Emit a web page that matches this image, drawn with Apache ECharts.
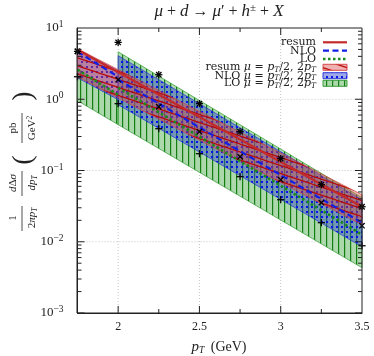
<!DOCTYPE html>
<html><head><meta charset="utf-8">
<script src="https://cdn.jsdelivr.net/npm/echarts@6/dist/echarts.min.js"></script>
<style>html,body{margin:0;padding:0;background:#fff}#c{width:374px;height:356px}</style>
</head><body><div id="c"></div>
<script>
// ---------- data ----------
const ptFull = [1.75, 3.5];
const resumCentral = [4.95, 0.031];
const resumUpper = [5.12, 0.0457];
const resumLower = [2.07, 0.0173];

const ptLeft = [1.75, 2.0];
const ptRight = [2.0, 3.5];
const nloCentralL = [4.64, 2.07];
const nloUpperL = [4.95, 2.52];
const nloLowerL = [2.00, 0.987];
const nloCentralR = [1.88, 0.0185];
const nloUpperR = [4.08, 0.0389];
const nloLowerR = [0.839, 0.00851];

const loCentralL = [2.60, 1.16];
const loUpperL = [2.68, 1.16];
const loLowerL = [0.955, 0.440];
const loCentralR = [1.45, 0.01256];
const loUpperR = [4.64, 0.0415];
const loLowerR = [0.440, 0.00432];

const ptMarks = [1.75, 2.0, 2.25, 2.5, 2.75, 3.0, 3.25, 3.5];
const starVals = [4.70, 6.28, 2.21, 0.867, 0.351, 0.147, 0.0632, 0.031];
const crossVals = [4.70, 1.88, 0.785, 0.351, 0.156, 0.0743, 0.0353, 0.0168];
const plusVals = [2.07, 0.867, 0.386, 0.172, 0.0819, 0.0389, 0.0185, 0.00879];

const xMajorTicks = [2.0, 2.5, 3.0];
const xMinorTicks = [2.25, 2.75, 3.25];
const xGrid = [2.0, 2.5, 3.0];
const yGrid = [1, 0.1, 0.01];
const yMinorMult = [2, 3, 4, 5, 6, 7, 8, 9];
const yDecades = [0.001, 0.01, 0.1, 1];
const xTickLabels = [2, 2.5, 3, 3.5];

const legendLabels = ['resum', 'NLO', 'LO'];
const legendBandNames = ['resum', 'NLO', 'LO'];

// ---------- patterns ----------
function makePattern(kind) {
  const c = document.createElement('canvas');
  let ctx;
  if (kind === 'red') {
    c.width = 24; c.height = 8; ctx = c.getContext('2d');
    ctx.fillStyle = 'rgba(220,70,70,0.42)'; ctx.fillRect(0, 0, 24, 8);
    ctx.strokeStyle = 'rgba(185,10,10,1)'; ctx.lineWidth = 1.2;
    for (let k = -1; k <= 1; k++) {
      ctx.beginPath(); ctx.moveTo(0, k * 8); ctx.lineTo(24, k * 8 + 8); ctx.stroke();
    }
  } else if (kind === 'blue') {
    c.width = 5; c.height = 5; ctx = c.getContext('2d');
    ctx.fillStyle = 'rgba(55,75,200,0.48)'; ctx.fillRect(0, 0, 5, 5);
    ctx.fillStyle = 'rgba(10,20,230,1)'; ctx.fillRect(1, 1, 2, 2);
  } else {
    c.width = 6; c.height = 6; ctx = c.getContext('2d');
    ctx.fillStyle = 'rgba(80,175,80,0.48)'; ctx.fillRect(0, 0, 6, 6);
    ctx.fillStyle = 'rgba(20,125,20,1)'; ctx.fillRect(2, 0, 1.2, 6);
  }
  return { image: c, repeat: 'repeat' };
}
const pat = { red: makePattern('red'), blue: makePattern('blue'), green: makePattern('green') };

// ---------- helpers ----------
function bandSeries(pts, up, lo, fill, z, stroke) {
  return {
    type: 'custom', z: z, silent: true,
    data: [[pts[0], up[0]]],
    renderItem: function (params, api) {
      const p = [];
      for (let i = 0; i < pts.length; i++) p.push(api.coord([pts[i], up[i]]));
      for (let i = pts.length - 1; i >= 0; i--) p.push(api.coord([pts[i], lo[i]]));
      return { type: 'polygon', shape: { points: p }, style: { fill: fill, stroke: stroke || null, lineWidth: 0.8 } };
    }
  };
}
function lineSeries(pts, vals, color, width, type, z) {
  return {
    type: 'line', z: z, silent: true, symbol: 'none', animation: false,
    data: pts.map((x, i) => [x, vals[i]]),
    lineStyle: { color: color, width: width, type: type }
  };
}
function markerSeries(vals, kind) {
  return {
    type: 'custom', z: 6, silent: true,
    data: ptMarks.map((x, i) => [x, vals[i]]),
    renderItem: function (params, api) {
      const c = api.coord([api.value(0), api.value(1)]);
      const r = 3.6, d = r * 0.75;
      const segs = [];
      if (kind !== 'x') { segs.push([c[0] - r, c[1], c[0] + r, c[1]]); segs.push([c[0], c[1] - r, c[0], c[1] + r]); }
      if (kind !== 'plus') { segs.push([c[0] - d, c[1] - d, c[0] + d, c[1] + d]); segs.push([c[0] - d, c[1] + d, c[0] + d, c[1] - d]); }
      return {
        type: 'group',
        children: segs.map(s => ({ type: 'line', shape: { x1: s[0], y1: s[1], x2: s[2], y2: s[3] }, style: { stroke: '#000', lineWidth: 1.25 } }))
      };
    }
  };
}
function gridSeries() {
  return {
    type: 'custom', z: 1, silent: true,
    data: [[2, 1]],
    renderItem: function (params, api) {
      const ch = [];
      const dash = { stroke: '#c4c4c4', lineWidth: 1, lineDash: [1, 2] };
      xGrid.forEach(x => {
        const a = api.coord([x, 10]), b = api.coord([x, 0.001]);
        ch.push({ type: 'line', shape: { x1: a[0], y1: a[1], x2: b[0], y2: b[1] }, style: dash });
      });
      yGrid.forEach(y => {
        const a = api.coord([1.75, y]), b = api.coord([3.5, y]);
        ch.push({ type: 'line', shape: { x1: a[0], y1: a[1], x2: b[0], y2: b[1] }, style: dash });
      });
      return { type: 'group', children: ch };
    }
  };
}
function tickSeries() {
  return {
    type: 'custom', z: 8, silent: true,
    data: [[2, 1]],
    renderItem: function (params, api) {
      const ch = [];
      const st = { stroke: '#222', lineWidth: 1 };
      const add = (x1, y1, x2, y2) => ch.push({ type: 'line', shape: { x1, y1, x2, y2 }, style: st });
      xMajorTicks.forEach(x => {
        const b = api.coord([x, 0.001]), t = api.coord([x, 10]);
        add(b[0], b[1], b[0], b[1] - 7); add(t[0], t[1], t[0], t[1] + 7);
      });
      xMinorTicks.forEach(x => {
        const b = api.coord([x, 0.001]), t = api.coord([x, 10]);
        add(b[0], b[1], b[0], b[1] - 4); add(t[0], t[1], t[0], t[1] + 4);
      });
      yDecades.forEach(d => {
        const l = api.coord([1.75, d]), r = api.coord([3.5, d]);
        add(l[0], l[1], l[0] + 7, l[1]); add(r[0], r[1], r[0] - 7, r[1]);
        yMinorMult.forEach(m => {
          const l2 = api.coord([1.75, d * m]), r2 = api.coord([3.5, d * m]);
          add(l2[0], l2[1], l2[0] + 4, l2[1]); add(r2[0], r2[1], r2[0] - 4, r2[1]);
        });
      });
      return { type: 'group', children: ch };
    }
  };
}

const RED = '#c42a2a', BLUE = '#1020e6', GREEN = '#1a8c1a';
const serif = 'Liberation Serif';
const dserif = 'DejaVu Serif';

const series = [
  gridSeries(),
  bandSeries(ptFull, resumUpper, resumLower, '#fff', 2),
  bandSeries(ptLeft, nloUpperL, nloLowerL, '#fff', 2),
  bandSeries(ptRight, nloUpperR, nloLowerR, '#fff', 2),
  bandSeries(ptLeft, loUpperL, loLowerL, '#fff', 2),
  bandSeries(ptRight, loUpperR, loLowerR, '#fff', 2),
  bandSeries(ptLeft, loUpperL, loLowerL, pat.green, 3, 'rgba(40,150,40,0.8)'),
  bandSeries(ptRight, loUpperR, loLowerR, pat.green, 3, 'rgba(40,150,40,0.8)'),
  bandSeries(ptLeft, nloUpperL, nloLowerL, pat.blue, 3, 'rgba(30,40,220,0.8)'),
  bandSeries(ptRight, nloUpperR, nloLowerR, pat.blue, 3, 'rgba(30,40,220,0.8)'),
  bandSeries(ptFull, resumUpper, resumLower, pat.red, 3, 'rgba(210,60,60,0.8)'),
  lineSeries(ptLeft, loCentralL, GREEN, 2.6, [2.5, 2.5], 4),
  lineSeries(ptRight, loCentralR, GREEN, 2.6, [2.5, 2.5], 4),
  lineSeries(ptLeft, nloCentralL, BLUE, 2.2, [6, 3.5], 4),
  lineSeries(ptRight, nloCentralR, BLUE, 2.2, [6, 3.5], 4),
  lineSeries(ptFull, resumCentral, RED, 2.2, 'solid', 5),
  markerSeries(starVals, 'star'),
  markerSeries(crossVals, 'x'),
  markerSeries(plusVals, 'plus'),
  tickSeries()
];

// legend graphics
const legX1 = 323, legX2 = 347, legTextX = 316;
const rows = [42.3, 50.7, 59, 67.3, 75.7, 83.3];
const legendGraphics = [];
const lineStyles = [
  { stroke: RED, lineWidth: 2.2 },
  { stroke: BLUE, lineWidth: 2.2, lineDash: [6, 3.5] },
  { stroke: GREEN, lineWidth: 2.6, lineDash: [2.5, 2.5] }
];
const legFont = '11px "' + dserif + '"';
legendLabels.forEach((lab, i) => {
  legendGraphics.push({ type: 'text', x: legTextX, y: rows[i], style: { text: lab, font: legFont, fill: '#222', align: 'right', verticalAlign: 'middle' } });
  legendGraphics.push({ type: 'line', shape: { x1: legX1, y1: rows[i], x2: legX2, y2: rows[i] }, style: lineStyles[i] });
});
const bandStyles = [
  { fill: pat.red, stroke: 'rgba(210,60,60,0.9)' },
  { fill: pat.blue, stroke: 'rgba(30,40,220,0.9)' },
  { fill: pat.green, stroke: 'rgba(40,150,40,0.9)' }
];
legendBandNames.forEach((lab, i) => {
  const y = rows[i + 3];
  legendGraphics.push({
    type: 'text', x: legTextX, y: y,
    style: {
      text: lab + ' {i|μ} = {i|p}{s|T}/2, 2{i|p}{s|T}', align: 'right', verticalAlign: 'middle',
      font: legFont, fill: '#222',
      rich: { i: { fontStyle: 'italic', fontFamily: dserif, fontSize: 11, fill: '#222' }, s: { fontStyle: 'italic', fontFamily: dserif, fontSize: 7.5, fill: '#222', padding: [5, 0, 0, 0] } }
    }
  });
  legendGraphics.push({ type: 'rect', shape: { x: legX1, y: y - 3, width: legX2 - legX1, height: 6 }, style: { fill: bandStyles[i].fill, stroke: bandStyles[i].stroke, lineWidth: 1 } });
});

// ---- y-axis title pieces, drawn as rotated names of hidden helper axes ----
const AX_X = 77, AX_MID = 28 + 285 / 2;
const nameRich = {
  i: { fontStyle: 'italic', fontSize: 11, fontFamily: serif, color: '#222' },
  s: { fontStyle: 'italic', fontSize: 7.5, fontFamily: serif, color: '#222', padding: [5, 0, 0, 0] },
  u: { fontSize: 7.5, fontFamily: serif, color: '#222', padding: [0, 0, 5, 0] }
};
function nameAxis(text, cx, cy, size) {
  const d = cy - AX_MID;
  const pad = d > 0 ? [0, 2 * d, 0, 0] : [0, 0, 0, -2 * d];
  return {
    type: 'value', min: 0, max: 1, show: true, position: 'left', offset: 0,
    axisLine: { show: false }, axisTick: { show: false }, axisLabel: { show: false },
    splitLine: { show: false }, minorTick: { show: false },
    name: text, nameLocation: 'middle', nameRotate: 90, nameGap: AX_X - cx, nameMoveOverlap: false,
    nameTextStyle: { fontFamily: serif, fontSize: size || 11, color: '#222', align: 'center', verticalAlign: 'middle', padding: pad, rich: nameRich }
  };
}
const yTitleParts = [
  ['1', 13, 218], ['2{i|πp}{s|T}', 32, 218],
  ['{i|d}Δ{i|σ}', 13, 183], ['{i|dp}{s|T}', 32, 183],
  ['pb', 13, 128], ['GeV{u|2}', 32, 128]
];
const yTitleBars = [[206, 231], [171, 196], [113, 143]];
const helperAxes = yTitleParts.map(p => nameAxis(p[0], p[1], p[2]));
helperAxes.push(nameAxis('(', 23, 160, 28));
helperAxes.push(nameAxis(')', 23, 96, 28));
const barGraphics = yTitleBars.map(b => ({ type: 'line', shape: { x1: 22, y1: b[0], x2: 22, y2: b[1] }, style: { stroke: '#222', lineWidth: 0.8 } }));

const mainY = {
  type: 'log', logBase: 10, min: 0.001, max: 10,
  axisLine: { show: true, lineStyle: { color: '#222', width: 1 } },
  axisTick: { show: false }, splitLine: { show: false }, minorSplitLine: { show: false },
  axisLabel: {
    margin: 14, color: '#222', fontFamily: serif, fontSize: 13,
    formatter: v => { const e = Math.round(Math.log10(v)); return '10{s|' + (e < 0 ? '−' + (-e) : e) + '}'; },
    rich: { s: { fontSize: 9.5, fontFamily: serif, color: '#222', padding: [0, 0, 7, 0] } }
  }
};

const chart = echarts.init(document.getElementById('c'), null, { renderer: 'canvas' });
chart.setOption({
  animation: false,
  backgroundColor: '#fff',
  grid: { left: 77, top: 28, right: 12, bottom: 43 },
  xAxis: {
    type: 'value', min: 1.75, max: 3.5, interval: 0.25,
    axisLine: { show: true, lineStyle: { color: '#222', width: 1 } },
    axisTick: { show: false }, splitLine: { show: false },
    axisLabel: {
      margin: 8, color: '#222', fontFamily: serif, fontSize: 12,
      formatter: v => (xTickLabels.some(t => Math.abs(t - v) < 1e-6) ? String(v) : '')
    }
  },
  yAxis: [mainY].concat(helperAxes),
  series: series,
  graphic: [
    { type: 'rect', z: 50, shape: { x: 77, y: 28, width: 285, height: 285 }, style: { fill: 'none', stroke: '#222', lineWidth: 1 } },
    {
      type: 'text', z: 50, x: 219, y: 12,
      style: {
        text: '{i|μ} + {i|d} → {i|μ}′ + {i|h}{s|±} + {i|X}', align: 'center', verticalAlign: 'middle',
        font: '16px "' + serif + '"', fill: '#222',
        rich: { i: { fontStyle: 'italic', fontFamily: serif, fontSize: 17, fill: '#222' }, a: { fontFamily: dserif, fontSize: 14, fill: '#222' }, s: { fontFamily: serif, fontSize: 11, fill: '#222', padding: [0, 0, 8, 0] } }
      }
    },
    {
      type: 'text', z: 50, x: 219, y: 347,
      style: {
        text: '{i|p}{s|T} (GeV)', align: 'center', verticalAlign: 'middle',
        font: '14px "' + serif + '"', fill: '#222',
        rich: { i: { fontStyle: 'italic', fontFamily: serif, fontSize: 15, fill: '#222' }, s: { fontStyle: 'italic', fontFamily: serif, fontSize: 9.5, fill: '#222', padding: [6, 3, 0, 0] } }
      }
    },
    { type: 'group', z: 50, children: barGraphics },
    { type: 'group', z: 60, children: legendGraphics }
  ]
});
</script></body></html>
